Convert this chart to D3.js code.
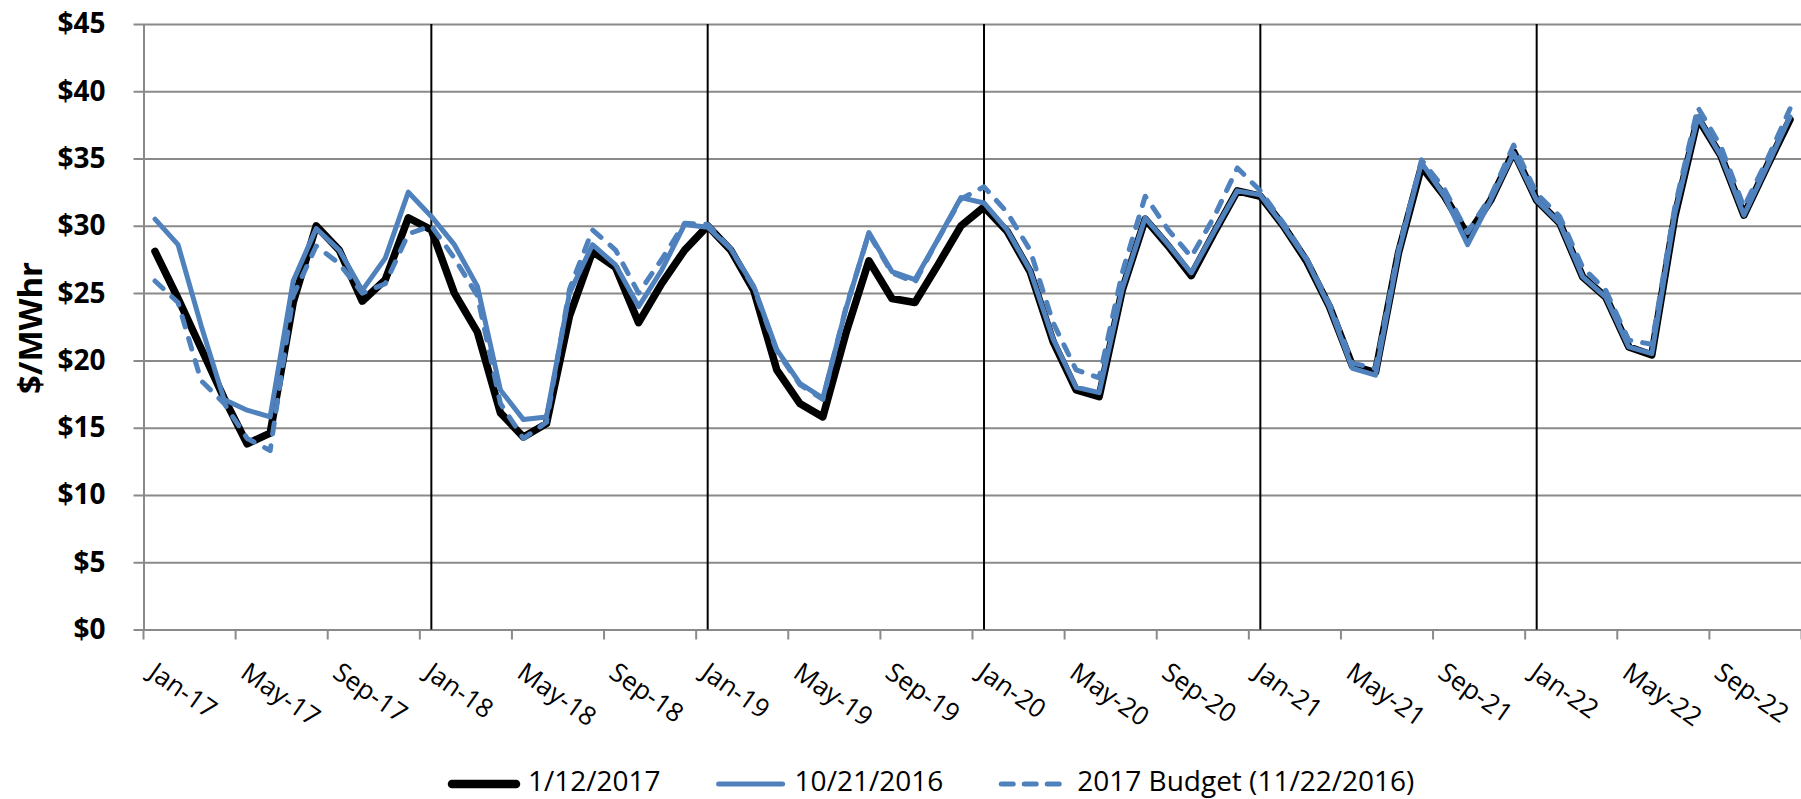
<!DOCTYPE html>
<html>
<head>
<meta charset="utf-8">
<script src="https://cdn.jsdelivr.net/npm/d3@7/dist/d3.min.js"></script>
<style>
body { margin: 0; background: #fff; }
svg { display: block; font-family: "Open Sans", sans-serif; }
</style>
</head>
<body>
<div id="chart"></div>
<script>
// categories: one per month, Jan-17 .. Dec-22
var months = ["Jan", "Feb", "Mar", "Apr", "May", "Jun", "Jul", "Aug", "Sep", "Oct", "Nov", "Dec"];
var years = ["17", "18", "19", "20", "21", "22"];

// labelled categories on the x axis (every 4th month)
var tickLabels = ["Jan-17", "May-17", "Sep-17", "Jan-18", "May-18", "Sep-18",
	"Jan-19", "May-19", "Sep-19", "Jan-20", "May-20", "Sep-20",
	"Jan-21", "May-21", "Sep-21", "Jan-22", "May-22", "Sep-22"];

// year separators are drawn through these months
var yearMarks = ["Jan-18", "Jan-19", "Jan-20", "Jan-21", "Jan-22"];

var yTicks = [0, 5, 10, 15, 20, 25, 30, 35, 40, 45];

var seriesNames = ["1/12/2017", "10/21/2016", "2017 Budget (11/22/2016)"];

// $/MWhr
var curve20170112 = [
	28.1, 24.6, 20.9, 17.2, 13.8, 14.6, 24.3, 30.0, 28.2, 24.4, 26.0, 30.6,
	29.7, 25.0, 22.1, 16.1, 14.3, 15.3, 23.3, 28.1, 26.9, 22.8, 25.7, 28.2,
	30.0, 28.2, 25.2, 19.3, 16.8, 15.8, 22.0, 27.4, 24.6, 24.3, 27.1, 30.0,
	31.4, 29.6, 26.6, 21.4, 17.8, 17.3, 25.2, 30.5, 28.5, 26.3, 29.5, 32.6,
	32.2, 30.0, 27.4, 24.0, 19.6, 19.1, 28.0, 34.4, 32.2, 29.3, 31.9, 35.5,
	31.9, 30.2, 26.2, 24.7, 21.0, 20.4, 30.7, 38.0, 35.2, 30.8, 34.4, 37.9
];

var curve20161021 = [
	30.5, 28.6, 22.6, 17.1, 16.3, 15.8, 25.9, 29.8, 28.2, 25.2, 27.6, 32.5,
	30.7, 28.6, 25.5, 17.8, 15.6, 15.8, 25.0, 28.6, 27.1, 24.0, 26.7, 30.1,
	29.9, 28.3, 25.5, 20.8, 18.3, 17.2, 23.8, 29.5, 26.6, 26.0, 29.0, 32.1,
	31.7, 29.7, 26.7, 21.6, 18.0, 17.6, 25.3, 30.6, 28.6, 26.5, 29.6, 32.6,
	32.3, 30.0, 27.5, 24.0, 19.4, 18.9, 28.0, 34.7, 32.2, 28.6, 31.9, 35.4,
	31.9, 30.2, 26.2, 24.7, 21.0, 20.5, 30.9, 38.1, 35.2, 30.8, 34.4, 38.1
];

var budget2017 = [
	25.9, 24.3, 18.5, 16.8, 14.2, 13.3, 24.8, 28.5, 27.2, 25.0, 25.7, 29.4,
	30.0, 27.6, 24.8, 16.8, 14.2, 15.4, 25.3, 29.7, 28.2, 25.0, 27.5, 30.2,
	30.1, 28.3, 25.4, 20.7, 18.2, 17.1, 23.9, 29.4, 26.5, 25.8, 29.0, 32.0,
	32.9, 31.0, 28.2, 22.8, 19.3, 18.7, 26.5, 32.2, 29.7, 27.7, 30.7, 34.3,
	32.6, 30.2, 27.6, 24.2, 19.8, 19.4, 28.2, 34.9, 32.7, 29.5, 32.2, 36.0,
	32.4, 30.7, 26.9, 25.2, 21.5, 21.2, 31.4, 38.8, 35.9, 31.4, 34.9, 38.7
];

var categories = years.reduce(function (acc, yy) {
	return acc.concat(months.map(function (m) { return m + "-" + yy; }));
}, []);

var WIDTH = 1801, HEIGHT = 799;
var PLOT = { left: 143.5, right: 1801.5, top: 24, bottom: 629.5 };
var BLUE = "#4f81bd";
var GRID = "#8a8a8a";

var svg = d3.select("#chart").append("svg")
	.attr("width", WIDTH)
	.attr("height", HEIGHT);

var x = d3.scaleBand().domain(categories).range([PLOT.left, PLOT.right]);
var y = d3.scaleLinear().domain([0, 45]).range([PLOT.bottom, PLOT.top]);
var half = x.bandwidth() / 2;

// horizontal gridlines + y labels
var yAxis = d3.axisLeft(y)
	.tickValues(yTicks)
	.tickSizeInner(-(PLOT.right - PLOT.left))
	.tickSizeOuter(0)
	.tickPadding(38)
	.tickFormat(function (d) { return "$" + d; });

var yg = svg.append("g")
	.attr("transform", "translate(" + PLOT.left + ",0)")
	.call(yAxis);
yg.select(".domain").attr("stroke", GRID).attr("stroke-width", 2);
yg.selectAll(".tick line")
	.attr("x1", -10)
	.attr("stroke", GRID)
	.attr("stroke-width", 2);
yg.selectAll(".tick text")
	.attr("fill", "#000")
	.attr("font-size", 28)
	.attr("font-weight", "bold")
	.attr("font-family", "'Open Sans', sans-serif");

// x axis: tick marks every 4 months, on category boundaries
var boundaries = categories.filter(function (d, i) { return i % 4 === 0; });
var xg = svg.append("g");
xg.selectAll("line.xtick")
	.data(boundaries.concat(["end"]))
	.enter().append("line")
	.attr("class", "xtick")
	.attr("x1", function (d) { return d === "end" ? PLOT.right : x(d); })
	.attr("x2", function (d) { return d === "end" ? PLOT.right : x(d); })
	.attr("y1", PLOT.bottom)
	.attr("y2", PLOT.bottom + 10)
	.attr("stroke", GRID)
	.attr("stroke-width", 2);

// rotated month labels
xg.selectAll("text")
	.data(tickLabels)
	.enter().append("text")
	.attr("transform", function (d) {
		return "translate(" + (x(d) + half + 3) + "," + (PLOT.bottom + 31) + ") rotate(35)";
	})
	.attr("dy", "0.74em")
	.attr("font-size", 26)
	.attr("fill", "#000")
	.text(function (d) { return d; });

// black year separators
svg.append("g").selectAll("line")
	.data(yearMarks)
	.enter().append("line")
	.attr("x1", function (d) { return x(d) + half; })
	.attr("x2", function (d) { return x(d) + half; })
	.attr("y1", PLOT.top)
	.attr("y2", PLOT.bottom)
	.attr("stroke", "#000")
	.attr("stroke-width", 2);

// series lines
var line = d3.line()
	.x(function (d, i) { return x(categories[i]) + half; })
	.y(function (d) { return y(d); });

var series = [
	{ name: seriesNames[0], values: curve20170112, color: "#000", width: 7.5, dash: null },
	{ name: seriesNames[1], values: curve20161021, color: BLUE, width: 5, dash: null },
	{ name: seriesNames[2], values: budget2017, color: BLUE, width: 5, dash: "11,12" }
];

svg.append("g").selectAll("path")
	.data(series)
	.enter().append("path")
	.attr("d", function (s) { return line(s.values); })
	.attr("fill", "none")
	.attr("stroke", function (s) { return s.color; })
	.attr("stroke-width", function (s) { return s.width; })
	.attr("stroke-linejoin", "round")
	.attr("stroke-linecap", "round")
	.attr("stroke-dasharray", function (s) { return s.dash; });

// y title
svg.append("text")
	.attr("transform", "translate(30,328) rotate(-90)")
	.attr("text-anchor", "middle")
	.attr("dy", "0.36em")
	.attr("font-size", 33)
	.attr("font-weight", "bold")
	.text("$/MWhr");

// legend, laid out left to right
var legend = svg.append("g").attr("transform", "translate(0,784)");
var lx = 452;
series.forEach(function (s) {
	var item = legend.append("g");
	item.append("line")
		.attr("x1", lx).attr("x2", lx + 64)
		.attr("stroke", s.color)
		.attr("stroke-width", s.dash ? 5 : (s.color === "#000" ? 8.5 : 5))
		.attr("stroke-linecap", "round")
		.attr("stroke-dasharray", s.dash ? "12,11" : null);
	var t = item.append("text")
		.attr("x", lx + 76)
		.attr("y", 7)
		.attr("font-size", 28)
		.text(s.name);
	lx += 76 + t.node().getComputedTextLength() + 58;
});
</script>
</body>
</html>
